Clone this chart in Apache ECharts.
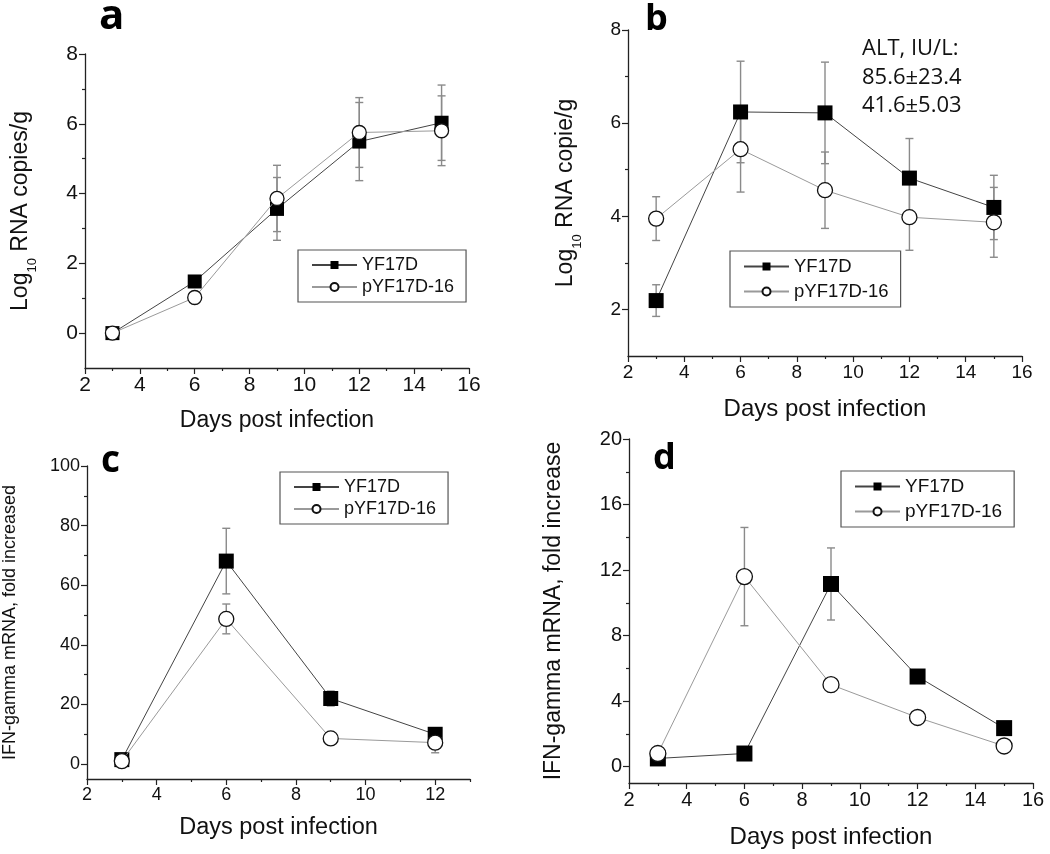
<!DOCTYPE html>
<html>
<head>
<meta charset="utf-8">
<script src="https://cdn.jsdelivr.net/npm/echarts@6/dist/echarts.min.js"></script>
<style>html,body{margin:0;padding:0;background:#fff;}#main{width:1050px;height:854px;}</style>
</head>
<body>
<div id="main"></div>
<script>
// ---------- data ----------
const days = [3, 6, 9, 12, 15];
const daysC = [3, 6, 9, 12];

// panel a: Log10 RNA copies/g
const aYF = [0, 1.48, 3.56, 5.49, 6.03];
const aYFErr = [0, 0, 0.9, 1.12, 1.08];
const aP = [0, 1.02, 3.86, 5.75, 5.8];
const aPErr = [0, 0, 0.95, 1.0, 1.0];

// panel b: Log10 RNA copie/g
const bYF = [2.19, 6.24, 6.22, 4.82, 4.19];
const bYFErr = [0.34, 1.09, 1.09, 0.85, 0.69];
const bP = [3.95, 5.44, 4.56, 3.98, 3.87];
const bPErr = [0.47, 0.92, 0.82, 0.71, 0.75];

// panel c: IFN-gamma mRNA, fold increased
const cYF = [1.5, 68.1, 22.0, 10.0];
const cYFErr = [0, 11, 2.5, 0];
const cP = [1.0, 48.7, 8.6, 7.2];
const cPErr = [0, 5, 0, 3.4];

// panel d: IFN-gamma mRNA, fold increase
const dYF = [0.5, 0.8, 11.15, 5.5, 2.35];
const dYFErr = [0, 0, 2.2, 0, 0];
const dP = [0.8, 11.6, 5.0, 3.0, 1.26];
const dPErr = [0, 3.0, 0, 0, 0];

// tick labels
const xTicksA = [2, 4, 6, 8, 10, 12, 14, 16];
const xMinorA = [3, 5, 7, 9, 11, 13, 15];
const xTicksC = [2, 4, 6, 8, 10, 12];
const xMinorC = [3, 5, 7, 9, 11, 13];
const yTicksA = [0, 2, 4, 6, 8];
const yMinorA = [1, 3, 5, 7];
const yTicksB = [2, 4, 6, 8];
const yMinorB = [3, 5, 7];
const yTicksC = [0, 20, 40, 60, 80, 100];
const yMinorC = [10, 30, 50, 70, 90];
const yTicksD = [0, 4, 8, 12, 16, 20];
const yMinorD = [2, 6, 10, 14, 18];

const S1 = 'YF17D', S2 = 'pYF17D-16';
const FONT = '"Liberation Sans", Arial, sans-serif';
const AXC = '#222';

// ---------- layout ----------
const panels = [
  {grid:{left:85, top:54, width:384, height:314}, xmin:2, xmax:16, xt:xTicksA, xm:xMinorA,
   ymin:-1, ymax:8, yt:yTicksA, ym:yMinorA, x:days, yf:aYF, yfe:aYFErr, p:aP, pe:aPErr,
   yname:'{m|Log}{s|10}{m| RNA copies/g}', yfs:23, ygap:46, xgap:41, xfs:23, tfs:21, sym:14,
   legend:{left:298, top:250, fs:18, gap:4}},
  {grid:{left:628, top:30, width:394, height:326}, xmin:2, xmax:16, xt:xTicksA, xm:xMinorA,
   ymin:1, ymax:8, yt:yTicksB, ym:yMinorB, x:days, yf:bYF, yfe:bYFErr, p:bP, pe:bPErr,
   yname:'{m|Log}{s|10}{m| RNA copie/g}', yfs:23, ygap:44, xgap:41, xfs:24, tfs:19, sym:15,
   legend:{left:730, top:251, fs:18.5, gap:6}},
  {grid:{left:85, top:466, width:385, height:313}, xmin:2, xmax:13, xt:xTicksC, xm:xMinorC,
   ymin:-5, ymax:100, yt:yTicksC, ym:yMinorC, x:daysC, yf:cYF, yfe:cYFErr, p:cP, pe:cPErr,
   yname:'IFN-gamma mRNA, fold increased', yfs:18, ygap:68, xgap:37, xfs:23.5, tfs:18, sym:15,
   legend:{left:280, top:472, fs:18, gap:4}},
  {grid:{left:629, top:439, width:404, height:344}, xmin:2, xmax:16, xt:xTicksA, xm:xMinorA,
   ymin:-1, ymax:20, yt:yTicksD, ym:yMinorD, x:days, yf:dYF, yfe:dYFErr, p:dP, pe:dPErr,
   yname:'IFN-gamma mRNA, fold increase', yfs:23, ygap:64, xgap:42, xfs:24, tfs:20, sym:16,
   legend:{left:841, top:471, fs:19, gap:6}}
];

function errRender(params, api) {
  const x = api.value(0), y = api.value(1), e = api.value(2);
  if (!e) return null;
  const t = api.coord([x, y + e]), b = api.coord([x, y - e]);
  const w = 4;
  const st = {stroke:'#8a8a8a', lineWidth:1.4};
  return {type:'group', children:[
    {type:'line', shape:{x1:t[0], y1:t[1], x2:b[0], y2:b[1]}, style:st},
    {type:'line', shape:{x1:t[0]-w, y1:t[1], x2:t[0]+w, y2:t[1]}, style:st},
    {type:'line', shape:{x1:b[0]-w, y1:b[1], x2:b[0]+w, y2:b[1]}, style:st}
  ]};
}

const grids = [], xAxes = [], yAxes = [], series = [], legends = [];
const n = panels.length;
panels.forEach((P, i) => {
  grids.push(P.grid);
  xAxes[i] = {
    type:'value', gridIndex:i, min:P.xmin, max:P.xmax, position:'bottom',
    axisLine:{show:true, onZero:false, lineStyle:{color:AXC, width:1.3}},
    axisTick:{show:true, length:6, customValues:P.xt, lineStyle:{color:AXC, width:1.2}},
    axisLabel:{customValues:P.xt, fontSize:P.tfs, color:'#111', fontFamily:FONT, margin:7},
    splitLine:{show:false},
    name:'Days post infection', nameLocation:'middle', nameGap:P.xgap,
    nameTextStyle:{fontSize:P.xfs, color:'#111', fontFamily:FONT, verticalAlign:'top'}
  };
  xAxes[n + i] = {
    type:'value', gridIndex:i, min:P.xmin, max:P.xmax, position:'bottom', offset:0,
    axisLine:{show:false, onZero:false}, axisLabel:{show:false}, splitLine:{show:false},
    axisTick:{show:true, length:3, customValues:P.xm, lineStyle:{color:AXC, width:1.2}}
  };
  yAxes[i] = {
    type:'value', gridIndex:i, min:P.ymin, max:P.ymax, position:'left',
    axisLine:{show:true, onZero:false, lineStyle:{color:AXC, width:1.3}},
    axisTick:{show:true, length:6, customValues:P.yt, lineStyle:{color:AXC, width:1.2}},
    axisLabel:{customValues:P.yt, fontSize:P.tfs, color:'#111', fontFamily:FONT, margin:7},
    splitLine:{show:false},
    name:P.yname, nameLocation:'middle', nameGap:P.ygap, nameRotate:90,
    nameTextStyle:{fontSize:P.yfs, color:'#111', fontFamily:FONT,
      rich:{
        m:{fontSize:P.yfs, fontFamily:FONT, color:'#111', lineHeight:30, verticalAlign:'top'},
        s:{fontSize:13, fontFamily:FONT, color:'#111', lineHeight:13, verticalAlign:'bottom'}
      }}
  };
  yAxes[n + i] = {
    type:'value', gridIndex:i, min:P.ymin, max:P.ymax, position:'left', offset:0,
    axisLine:{show:false, onZero:false}, axisLabel:{show:false}, splitLine:{show:false},
    axisTick:{show:true, length:3, customValues:P.ym, lineStyle:{color:AXC, width:1.2}}
  };

  series.push({
    type:'custom', xAxisIndex:i, yAxisIndex:i, renderItem:errRender, z:1, silent:true,
    encode:{x:0, y:1}, data:P.x.map((d,k)=>[d, P.yf[k], P.yfe[k]])
  });
  series.push({
    type:'custom', xAxisIndex:i, yAxisIndex:i, renderItem:errRender, z:1, silent:true,
    encode:{x:0, y:1}, data:P.x.map((d,k)=>[d, P.p[k], P.pe[k]])
  });
  series.push({
    name:S1, type:'line', xAxisIndex:i, yAxisIndex:i, z:3,
    data:P.x.map((d,k)=>[d, P.yf[k]]),
    symbol:'rect', symbolSize:P.sym,
    lineStyle:{color:'#444', width:1},
    itemStyle:{color:'#000', borderColor:'#000', borderWidth:0}
  });
  series.push({
    name:S2, type:'line', xAxisIndex:i, yAxisIndex:i, z:4,
    data:P.x.map((d,k)=>[d, P.p[k]]),
    symbol:'circle', symbolSize:P.sym,
    lineStyle:{color:'#9a9a9a', width:1},
    itemStyle:{color:'#fff', borderColor:'#111', borderWidth:1.3}
  });

  legends.push({
    data:[S1, S2], orient:'vertical', left:P.legend.left, top:P.legend.top,
    itemWidth:45, itemHeight:10, itemGap:P.legend.gap,
    padding:[6, 12, 6, 13], borderColor:'#555', borderWidth:1.2,
    textStyle:{fontSize:P.legend.fs, color:'#111', fontFamily:FONT, padding:[0,0,0,0]},
    selectedMode:false
  });
});

const labelFont = '"Open Sans", sans-serif';
const graphic = [
  {type:'text', left:99, top:-4, style:{text:'a', font:'bold 42px ' + labelFont, fill:'#000'}},
  {type:'text', left:645, top:2, style:{text:'b', font:'bold 36px ' + labelFont, fill:'#000'}},
  {type:'text', left:101, top:443, style:{text:'c', font:'bold 37px ' + labelFont, fill:'#000'}},
  {type:'text', left:653, top:441, style:{text:'d', font:'bold 36px ' + labelFont, fill:'#000'}},
  {type:'text', left:862, top:38, style:{text:'ALT, IU/L:', font:'22px ' + labelFont, fill:'#111'}},
  {type:'text', left:862, top:67, style:{text:'85.6±23.4', font:'22px ' + labelFont, fill:'#111'}},
  {type:'text', left:862, top:95, style:{text:'41.6±5.03', font:'22px ' + labelFont, fill:'#111'}}
];

const chart = echarts.init(document.getElementById('main'), null, {renderer:'canvas'});
chart.setOption({
  animation:false,
  backgroundColor:'#fff',
  grid:grids, xAxis:xAxes, yAxis:yAxes, series:series, legend:legends, graphic:graphic
});
</script>
</body>
</html>
